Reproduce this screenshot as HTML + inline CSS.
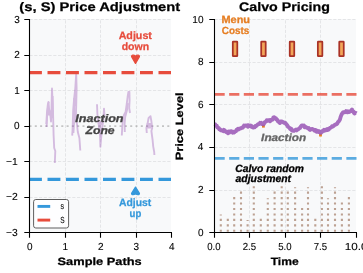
<!DOCTYPE html>
<html><head><meta charset="utf-8"><style>
html,body{margin:0;padding:0;background:#fff;overflow:hidden}
svg{display:block;will-change:transform}
text{font-family:"Liberation Sans",sans-serif;text-rendering:geometricPrecision}
</style></head><body>
<svg width="363" height="273" viewBox="0 0 363 273"><rect x="29" y="19" width="142" height="214" fill="#f8f9fa"/><rect x="214" y="19" width="142" height="214" fill="#f8f9fa"/><path d="M65.50,232.5V19.5M100.50,232.5V19.5M136.50,232.5V19.5M29.5,197.50H171M29.5,161.50H171M29.5,90.50H171M29.5,55.50H171M29.5,19.50H171M249.50,232.5V19.5M285.50,232.5V19.5M320.50,232.5V19.5M214.5,190.50H356M214.5,147.50H356M214.5,104.50H356M214.5,62.50H356M214.5,19.50H356" stroke="#e1e2e4" stroke-width="0.9" stroke-dasharray="3.15 1.6" fill="none"/><path d="M29.5,126.1H171" stroke="#a0a0a0" stroke-opacity="0.6" stroke-width="1.8" stroke-dasharray="2 3.3"/><g opacity="0.38"><path d="M46.6,127.0 L47.2,115.0 L48.5,102.0 L49.2,110.0 L50.2,114.0 L51.0,121.5 L51.4,112.0 L52.0,88.5 L53.0,112.0 L53.6,135.0 L54.2,148.0 L55.3,151.0 L54.8,163.0" fill="none" stroke="#9b59b6" stroke-width="1.9" stroke-linejoin="round"/><path d="M72.2,135.6 L72.6,129.0 L73.2,110.0 L74.0,100.0 L75.3,88.0 L76.2,74.0 L76.6,88.0 L76.2,106.0 L75.8,118.0 L77.0,124.0 L77.8,132.0 L79.4,138.0 L80.3,150.5" fill="none" stroke="#9b59b6" stroke-width="1.9" stroke-linejoin="round"/><path d="M97.0,104.3 L97.4,114.0 L98.2,122.0 L99.8,130.0 L100.2,140.0 L100.4,146.8 L101.5,134.0 L102.5,125.0 L103.4,119.0 L104.0,108.6 L104.5,116.0" fill="none" stroke="#9b59b6" stroke-width="1.9" stroke-linejoin="round"/><path d="M121.8,135.5 L122.2,128.0 L123.0,119.0 L124.0,115.0 L125.6,112.0 L126.6,105.0 L127.6,97.0 L128.4,92.0 L129.4,91.8 L129.6,100.0 L129.2,108.0 L130.0,113.0" fill="none" stroke="#9b59b6" stroke-width="1.9" stroke-linejoin="round"/><path d="M124.8,131.9 L124.6,124.0 L125.2,117.0 L127.0,110.0 L128.0,103.0" fill="none" stroke="#9b59b6" stroke-width="1.9" stroke-linejoin="round"/><path d="M75.6,90.0 L74.6,100.0 L74.4,112.0 L74.0,124.0 L73.4,133.0" fill="none" stroke="#9b59b6" stroke-width="1.9" stroke-linejoin="round"/><path d="M46.3,124.0 L47.0,112.0 L47.9,104.0 L48.8,101.8" fill="none" stroke="#9b59b6" stroke-width="1.9" stroke-linejoin="round"/><path d="M52.6,96.0 L52.8,110.0 L53.0,118.0" fill="none" stroke="#9b59b6" stroke-width="1.9" stroke-linejoin="round"/><path d="M146.8,133.0 L146.4,128.0 L147.5,124.0 L148.6,118.0 L150.5,116.2 L151.5,122.0 L152.2,128.0 L151.4,131.0 L152.6,140.0 L153.2,146.3 L154.2,152.0 L154.4,155.0" fill="none" stroke="#9b59b6" stroke-width="1.9" stroke-linejoin="round"/><rect x="47.20" y="110.50" width="6.40" height="5.00" fill="#9b59b6"/><rect x="73.20" y="98.00" width="3.40" height="8.00" fill="#9b59b6"/><rect x="98.00" y="121.00" width="4.90" height="4.00" fill="#9b59b6"/><rect x="98.20" y="125.00" width="3.00" height="9.00" fill="#9b59b6"/><rect x="146.60" y="123.00" width="4.80" height="5.50" fill="#9b59b6"/></g><path d="M29.0,72.6H171" stroke="#e74c3c" stroke-width="3.4" stroke-dasharray="12.9 5.6"/><path d="M29.0,179.35H171" stroke="#3498db" stroke-width="3.4" stroke-dasharray="12.9 5.6"/><path d="M220.80,231.85V229.75M220.80,226.40V224.30M220.80,220.95V218.85M220.80,215.50V214.50M227.80,231.85V229.75M227.80,226.40V224.30M227.80,220.95V218.85M234.20,231.85V229.75M234.20,226.40V224.30M234.20,220.95V218.85M234.20,215.50V213.40M234.20,210.05V207.95M234.20,204.60V202.50M234.20,199.15V197.05M241.00,231.85V229.75M241.00,226.40V224.30M241.00,220.95V218.85M241.00,215.50V213.40M241.00,210.05V207.95M241.00,204.60V202.50M241.00,199.15V197.05M241.00,193.70V191.60M247.60,231.85V229.75M247.60,226.40V224.30M247.60,220.95V219.95M253.80,231.85V229.75M253.80,226.40V224.30M253.80,220.95V218.85M253.80,215.50V213.40M253.80,210.05V207.95M253.80,204.60V202.50M253.80,199.15V197.05M253.80,193.70V191.60M253.80,188.25V186.15M260.80,231.85V229.75M260.80,226.40V224.30M260.80,220.95V218.85M267.80,231.85V229.75M267.80,226.40V224.30M267.80,220.95V218.85M267.80,215.50V213.40M267.80,210.05V207.95M267.80,204.60V202.50M267.80,199.15V198.15M274.60,231.85V229.75M274.60,226.40V224.30M274.60,220.95V218.85M274.60,215.50V213.40M274.60,210.05V207.95M274.60,204.60V202.50M274.60,199.15V197.05M274.60,193.70V191.60M281.70,231.85V229.75M281.70,226.40V224.30M281.70,220.95V218.85M281.70,215.50V213.40M281.70,210.05V207.95M281.70,204.60V202.50M281.70,199.15V197.05M281.70,193.70V191.60M281.70,188.25V186.15M287.80,231.85V229.75M287.80,226.40V224.30M287.80,220.95V218.85M287.80,215.50V213.40M287.80,210.05V207.95M287.80,204.60V202.50M287.80,199.15V197.05M287.80,193.70V191.60M295.10,231.85V229.75M295.10,226.40V224.30M295.10,220.95V218.85M295.10,215.50V213.40M295.10,210.05V207.95M295.10,204.60V202.50M295.10,199.15V197.05M295.10,193.70V191.60M295.10,188.25V187.25M302.10,231.85V229.75M302.10,226.40V224.30M302.10,220.95V218.85M302.10,215.50V213.40M302.10,210.05V207.95M308.00,231.85V229.75M308.00,226.40V224.30M308.00,220.95V218.85M308.00,215.50V213.40M308.00,210.05V207.95M308.00,204.60V202.50M308.00,199.15V197.05M308.00,193.70V191.60M308.00,188.25V187.25M315.30,231.85V229.75M315.30,226.40V224.30M315.30,220.95V218.85M321.90,231.85V229.75M321.90,226.40V224.30M321.90,220.95V218.85M321.90,215.50V213.40M321.90,210.05V207.95M321.90,204.60V202.50M321.90,199.15V197.05M321.90,193.70V191.60M321.90,188.25V186.15M328.00,231.85V229.75M328.00,226.40V224.30M328.00,220.95V218.85M328.00,215.50V213.40M328.00,210.05V207.95M328.00,204.60V202.50M328.00,199.15V198.15M335.00,231.85V229.75M335.00,226.40V224.30M335.00,220.95V218.85M335.00,215.50V213.40M335.00,210.05V207.95M335.00,204.60V202.50M335.00,199.15V197.05M335.00,193.70V191.60M335.00,188.25V187.25M341.90,231.85V229.75M341.90,226.40V224.30M341.90,220.95V218.85M341.90,215.50V213.40M341.90,210.05V207.95M341.90,204.60V202.50M348.90,231.85V229.75M348.90,226.40V224.30M348.90,220.95V218.85M348.90,215.50V213.40M348.90,210.05V207.95M348.90,204.60V202.50M348.90,199.15V197.05" stroke="#8b5a3c" stroke-opacity="0.55" stroke-width="2.1" fill="none"/><path d="M214.5,94.3H356.5" stroke="#e74c3c" stroke-opacity="0.8" stroke-width="2.7" stroke-dasharray="10.2 4.45"/><path d="M214.5,158.4H356.5" stroke="#3498db" stroke-opacity="0.8" stroke-width="2.7" stroke-dasharray="10.2 4.45"/><rect x="262.0" y="124.8" width="2.8" height="2.8" fill="#e67e22"/><rect x="319.1" y="133.7" width="2.8" height="2.8" fill="#e67e22"/><path d="M214.50,124.22 L215.25,124.39 L216.00,125.64 L216.67,125.58 L217.33,127.19 L218.00,127.79 L218.67,127.96 L219.33,129.35 L220.00,129.26 L220.67,130.26 L221.33,130.05 L222.00,130.45 L222.67,130.78 L223.33,131.22 L224.00,129.90 L224.67,130.32 L225.33,131.24 L226.00,132.02 L226.67,131.82 L227.33,131.93 L228.00,133.26 L228.67,131.54 L229.33,132.61 L230.00,131.46 L230.67,131.30 L231.33,131.32 L232.00,131.69 L232.67,132.64 L233.33,131.76 L234.00,132.53 L234.67,132.16 L235.33,131.26 L236.00,131.08 L236.67,129.73 L237.33,129.16 L238.00,128.83 L238.67,129.39 L239.33,128.78 L240.00,128.40 L240.67,128.54 L241.33,128.03 L242.00,127.48 L242.67,127.67 L243.33,126.92 L244.00,125.59 L244.67,125.89 L245.33,125.57 L246.00,125.90 L246.67,125.90 L247.33,125.43 L248.00,126.77 L248.67,125.32 L249.33,125.74 L250.00,126.21 L250.67,125.68 L251.33,126.65 L252.00,126.36 L252.67,127.37 L253.33,127.52 L254.00,127.22 L254.67,127.33 L255.33,126.07 L256.00,126.31 L256.67,125.55 L257.33,124.93 L258.00,124.13 L258.67,124.31 L259.33,124.04 L260.00,122.86 L260.67,123.46 L261.33,122.80 L262.00,124.12 L262.67,123.87 L263.33,124.26 L264.00,123.82 L264.67,122.29 L265.33,121.78 L266.00,121.57 L266.67,120.34 L267.33,120.84 L268.00,120.17 L268.67,120.15 L269.33,120.13 L270.00,121.33 L270.67,120.01 L271.33,119.90 L272.00,119.83 L272.67,119.66 L273.33,117.46 L274.00,117.12 L274.67,117.55 L275.33,118.35 L276.00,118.51 L276.67,119.72 L277.33,119.91 L278.00,121.26 L278.67,121.44 L279.33,122.55 L280.00,122.93 L280.67,121.57 L281.33,121.55 L282.00,121.57 L282.67,121.81 L283.33,122.44 L284.00,122.84 L284.67,122.79 L285.33,122.84 L286.00,123.97 L286.67,124.52 L287.33,125.47 L288.00,126.72 L288.67,127.14 L289.33,127.69 L290.00,128.69 L290.67,129.28 L291.33,128.79 L292.00,130.64 L292.67,130.58 L293.33,130.87 L294.00,130.88 L294.67,130.16 L295.33,130.11 L296.00,129.57 L296.67,130.35 L297.33,129.37 L298.00,129.31 L298.67,128.93 L299.33,128.26 L300.00,127.94 L300.67,126.75 L301.33,125.93 L302.00,125.44 L302.67,125.46 L303.33,125.98 L304.00,125.54 L304.67,127.33 L305.33,127.35 L306.00,127.04 L306.67,127.50 L307.33,127.96 L308.00,128.28 L308.67,128.10 L309.33,129.46 L310.00,129.89 L310.67,129.21 L311.33,129.41 L312.00,128.94 L312.67,129.10 L313.33,129.61 L314.00,129.62 L314.67,130.83 L315.33,130.06 L316.00,130.14 L316.67,131.82 L317.33,131.35 L318.00,130.93 L318.67,131.84 L319.33,131.28 L320.00,132.34 L320.67,132.87 L321.33,132.48 L322.00,132.01 L322.67,130.88 L323.33,130.62 L324.00,129.87 L324.67,130.64 L325.33,130.05 L326.00,130.25 L326.67,129.39 L327.33,129.09 L328.00,129.90 L328.67,129.51 L329.33,128.63 L330.00,127.89 L330.67,127.68 L331.33,127.32 L332.00,126.26 L332.67,126.59 L333.33,126.20 L334.00,125.55 L334.67,124.94 L335.33,124.75 L336.00,124.11 L336.67,123.97 L337.33,123.56 L338.00,121.92 L338.67,121.53 L339.33,120.45 L340.00,119.23 L340.67,116.82 L341.33,115.12 L342.00,113.66 L342.67,112.88 L343.33,112.16 L344.00,112.10 L344.67,112.31 L345.33,111.98 L346.00,111.17 L346.67,111.71 L347.33,112.21 L348.00,111.34 L348.67,111.92 L349.33,111.99 L350.00,111.45 L350.67,111.10 L351.33,110.36 L352.00,109.59 L352.67,111.36 L353.33,111.43 L354.00,112.98 L354.62,113.48 L355.25,112.78 L355.88,113.02 L356.50,113.40" stroke="#9b59b6" stroke-opacity="0.88" stroke-width="3.9" fill="none" stroke-linejoin="round"/><rect x="232.80" y="41.6" width="4.5" height="14.5" rx="0.4" fill="#f2a65a" stroke="#a93226" stroke-width="1.75"/><rect x="261.20" y="41.6" width="4.5" height="14.5" rx="0.4" fill="#f2a65a" stroke="#a93226" stroke-width="1.75"/><rect x="289.75" y="41.6" width="4.5" height="14.5" rx="0.4" fill="#f2a65a" stroke="#a93226" stroke-width="1.75"/><rect x="317.85" y="41.6" width="4.5" height="14.5" rx="0.4" fill="#f2a65a" stroke="#a93226" stroke-width="1.75"/><rect x="339.25" y="41.6" width="4.5" height="14.5" rx="0.4" fill="#f2a65a" stroke="#a93226" stroke-width="1.75"/><path d="M131.6,56.6 C131.4,54.9 133.8,54.6 135.5,56.2 C137.2,54.6 139.6,54.9 139.4,56.6 L135.5,63.4 Z" fill="#e74c3c" stroke="#e74c3c" stroke-width="1.3" stroke-linejoin="round"/><path d="M131.6,193.3 C131.4,195.0 133.8,195.3 135.5,193.5 C137.2,195.3 139.6,195.0 139.4,193.3 L135.5,187.1 Z" fill="#3498db" stroke="#3498db" stroke-width="1.3" stroke-linejoin="round"/><path d="M29.5,19V233M29,232.5H172M214.5,19V233M214,232.5H357M24.3,232.50H29.5M24.3,197.50H29.5M24.3,161.50H29.5M24.3,126.50H29.5M24.3,90.50H29.5M24.3,55.50H29.5M24.3,19.50H29.5M29.50,232.5V237.7M65.50,232.5V237.7M100.50,232.5V237.7M136.50,232.5V237.7M171.50,232.5V237.7M209.3,232.50H214.5M209.3,190.50H214.5M209.3,147.50H214.5M209.3,104.50H214.5M209.3,62.50H214.5M209.3,19.50H214.5M214.50,232.5V237.7M249.50,232.5V237.7M285.50,232.5V237.7M320.50,232.5V237.7M356.50,232.5V237.7" stroke="#000" stroke-width="1.1" fill="none"/><rect x="33.6" y="199.5" width="35" height="28.5" rx="2.2" fill="#ffffff" fill-opacity="0.85" stroke="#5e5e5e" stroke-width="1"/><path d="M37.5,206.4H50.2" stroke="#3498db" stroke-width="2.9"/><path d="M37.5,220.1H50.2" stroke="#e74c3c" stroke-width="2.9"/><g font-family="Liberation Sans, sans-serif"><text x="60.46" y="208.50" font-size="8.8" style="font-weight:400;font-style:normal" fill="#000" stroke="#000" stroke-width="0.1" textLength="3.54" lengthAdjust="spacingAndGlyphs">s</text><text x="60.35" y="222.50" font-size="8.8" style="font-weight:400;font-style:normal" fill="#000" stroke="#000" stroke-width="0.1" textLength="4.39" lengthAdjust="spacingAndGlyphs">S</text><text x="19.39" y="10.70" font-size="12.4" style="font-weight:700;font-style:normal" fill="#000" stroke="#000" stroke-width="0.25" textLength="160.87" lengthAdjust="spacingAndGlyphs">(s, S) Price Adjustment</text><text x="239.06" y="10.70" font-size="12.4" style="font-weight:700;font-style:normal" fill="#000" stroke="#000" stroke-width="0.25" textLength="90.85" lengthAdjust="spacingAndGlyphs">Calvo Pricing</text><text x="57.54" y="265.00" font-size="10.6" style="font-weight:700;font-style:normal" fill="#000" stroke="#000" stroke-width="0.25" textLength="84.16" lengthAdjust="spacingAndGlyphs">Sample Paths</text><text x="270.70" y="265.00" font-size="10.6" style="font-weight:700;font-style:normal" fill="#000" stroke="#000" stroke-width="0.25" textLength="27.98" lengthAdjust="spacingAndGlyphs">Time</text><g transform="translate(183.3,160) rotate(-90)"><text x="-0.34" y="0.00" font-size="10.6" style="font-weight:700;font-style:normal" fill="#000" stroke="#000" stroke-width="0.25" textLength="67.94" lengthAdjust="spacingAndGlyphs">Price Level</text></g><text x="14.13" y="22.50" font-size="10.2" style="font-weight:400;font-style:normal" fill="#000" stroke="#000" stroke-width="0.1" textLength="5.56" lengthAdjust="spacingAndGlyphs">3</text><text x="14.21" y="58.00" font-size="10.2" style="font-weight:400;font-style:normal" fill="#000" stroke="#000" stroke-width="0.1" textLength="5.55" lengthAdjust="spacingAndGlyphs">2</text><text x="14.19" y="93.50" font-size="10.2" style="font-weight:400;font-style:normal" fill="#000" stroke="#000" stroke-width="0.1" textLength="5.54" lengthAdjust="spacingAndGlyphs">1</text><text x="14.08" y="129.00" font-size="10.2" style="font-weight:400;font-style:normal" fill="#000" stroke="#000" stroke-width="0.1" textLength="5.56" lengthAdjust="spacingAndGlyphs">0</text><text x="5.93" y="164.50" font-size="10.2" style="font-weight:400;font-style:normal" fill="#000" stroke="#000" stroke-width="0.1" textLength="11.81" lengthAdjust="spacingAndGlyphs">−1</text><text x="5.93" y="200.00" font-size="10.2" style="font-weight:400;font-style:normal" fill="#000" stroke="#000" stroke-width="0.1" textLength="11.84" lengthAdjust="spacingAndGlyphs">−2</text><text x="5.93" y="235.50" font-size="10.2" style="font-weight:400;font-style:normal" fill="#000" stroke="#000" stroke-width="0.1" textLength="11.76" lengthAdjust="spacingAndGlyphs">−3</text><text x="27.02" y="249.80" font-size="10.2" style="font-weight:400;font-style:normal" fill="#000" stroke="#000" stroke-width="0.1" textLength="5.56" lengthAdjust="spacingAndGlyphs">0</text><text x="62.40" y="249.80" font-size="10.2" style="font-weight:400;font-style:normal" fill="#000" stroke="#000" stroke-width="0.1" textLength="5.54" lengthAdjust="spacingAndGlyphs">1</text><text x="98.03" y="249.80" font-size="10.2" style="font-weight:400;font-style:normal" fill="#000" stroke="#000" stroke-width="0.1" textLength="5.55" lengthAdjust="spacingAndGlyphs">2</text><text x="133.55" y="249.80" font-size="10.2" style="font-weight:400;font-style:normal" fill="#000" stroke="#000" stroke-width="0.1" textLength="5.56" lengthAdjust="spacingAndGlyphs">3</text><text x="169.05" y="249.80" font-size="10.2" style="font-weight:400;font-style:normal" fill="#000" stroke="#000" stroke-width="0.1" textLength="5.56" lengthAdjust="spacingAndGlyphs">4</text><text x="197.98" y="235.50" font-size="10.2" style="font-weight:400;font-style:normal" fill="#000" stroke="#000" stroke-width="0.1" textLength="5.56" lengthAdjust="spacingAndGlyphs">0</text><text x="198.11" y="192.90" font-size="10.2" style="font-weight:400;font-style:normal" fill="#000" stroke="#000" stroke-width="0.1" textLength="5.55" lengthAdjust="spacingAndGlyphs">2</text><text x="197.87" y="150.30" font-size="10.2" style="font-weight:400;font-style:normal" fill="#000" stroke="#000" stroke-width="0.1" textLength="5.56" lengthAdjust="spacingAndGlyphs">4</text><text x="198.03" y="107.70" font-size="10.2" style="font-weight:400;font-style:normal" fill="#000" stroke="#000" stroke-width="0.1" textLength="5.55" lengthAdjust="spacingAndGlyphs">6</text><text x="198.03" y="65.10" font-size="10.2" style="font-weight:400;font-style:normal" fill="#000" stroke="#000" stroke-width="0.1" textLength="5.55" lengthAdjust="spacingAndGlyphs">8</text><text x="192.32" y="22.50" font-size="10.2" style="font-weight:400;font-style:normal" fill="#000" stroke="#000" stroke-width="0.1" textLength="11.23" lengthAdjust="spacingAndGlyphs">10</text><text x="207.21" y="249.80" font-size="10.2" style="font-weight:400;font-style:normal" fill="#000" stroke="#000" stroke-width="0.1" textLength="13.37" lengthAdjust="spacingAndGlyphs">0.0</text><text x="242.67" y="249.80" font-size="10.2" style="font-weight:400;font-style:normal" fill="#000" stroke="#000" stroke-width="0.1" textLength="13.36" lengthAdjust="spacingAndGlyphs">2.5</text><text x="278.21" y="249.80" font-size="10.2" style="font-weight:400;font-style:normal" fill="#000" stroke="#000" stroke-width="0.1" textLength="13.37" lengthAdjust="spacingAndGlyphs">5.0</text><text x="313.67" y="249.80" font-size="10.2" style="font-weight:400;font-style:normal" fill="#000" stroke="#000" stroke-width="0.1" textLength="13.36" lengthAdjust="spacingAndGlyphs">7.5</text><text x="344.87" y="249.80" font-size="10.2" style="font-weight:400;font-style:normal" fill="#000" stroke="#000" stroke-width="0.1" textLength="22.73" lengthAdjust="spacingAndGlyphs">10.0</text><text x="118.66" y="38.60" font-size="10.6" style="font-weight:700;font-style:normal" fill="#e74c3c" stroke="#e74c3c" stroke-width="0.25" textLength="33.26" lengthAdjust="spacingAndGlyphs">Adjust</text><text x="121.71" y="50.40" font-size="10.6" style="font-weight:700;font-style:normal" fill="#e74c3c" stroke="#e74c3c" stroke-width="0.25" textLength="27.40" lengthAdjust="spacingAndGlyphs">down</text><text x="118.97" y="205.80" font-size="10.6" style="font-weight:700;font-style:normal" fill="#3498db" stroke="#3498db" stroke-width="0.25" textLength="32.25" lengthAdjust="spacingAndGlyphs">Adjust</text><text x="129.58" y="216.90" font-size="10.6" style="font-weight:700;font-style:normal" fill="#3498db" stroke="#3498db" stroke-width="0.25" textLength="11.70" lengthAdjust="spacingAndGlyphs">up</text><text x="75.23" y="122.20" font-size="10.9" style="font-weight:700;font-style:italic" fill="#444444" stroke="#444444" stroke-width="0.3" textLength="48.34" lengthAdjust="spacingAndGlyphs">Inaction</text><text x="85.62" y="133.50" font-size="10.9" style="font-weight:700;font-style:italic" fill="#444444" stroke="#444444" stroke-width="0.3" textLength="28.98" lengthAdjust="spacingAndGlyphs">Zone</text><text x="221.49" y="23.00" font-size="10.4" style="font-weight:700;font-style:normal" fill="#e67e22" stroke="#e67e22" stroke-width="0.25" textLength="28.51" lengthAdjust="spacingAndGlyphs">Menu</text><text x="221.83" y="33.70" font-size="10.4" style="font-weight:700;font-style:normal" fill="#e67e22" stroke="#e67e22" stroke-width="0.25" textLength="27.55" lengthAdjust="spacingAndGlyphs">Costs</text><text x="261.14" y="140.70" font-size="10.5" style="font-weight:700;font-style:italic" fill="#666666" stroke="#666666" stroke-width="0.3" textLength="44.99" lengthAdjust="spacingAndGlyphs">Inaction</text><text x="235.36" y="171.60" font-size="10.5" style="font-weight:700;font-style:italic" fill="#000" stroke="#000" stroke-width="0.3" textLength="68.51" lengthAdjust="spacingAndGlyphs">Calvo random</text><text x="235.50" y="181.60" font-size="10.5" style="font-weight:700;font-style:italic" fill="#000" stroke="#000" stroke-width="0.3" textLength="55.50" lengthAdjust="spacingAndGlyphs">adjustment</text></g></svg>
</body></html>
